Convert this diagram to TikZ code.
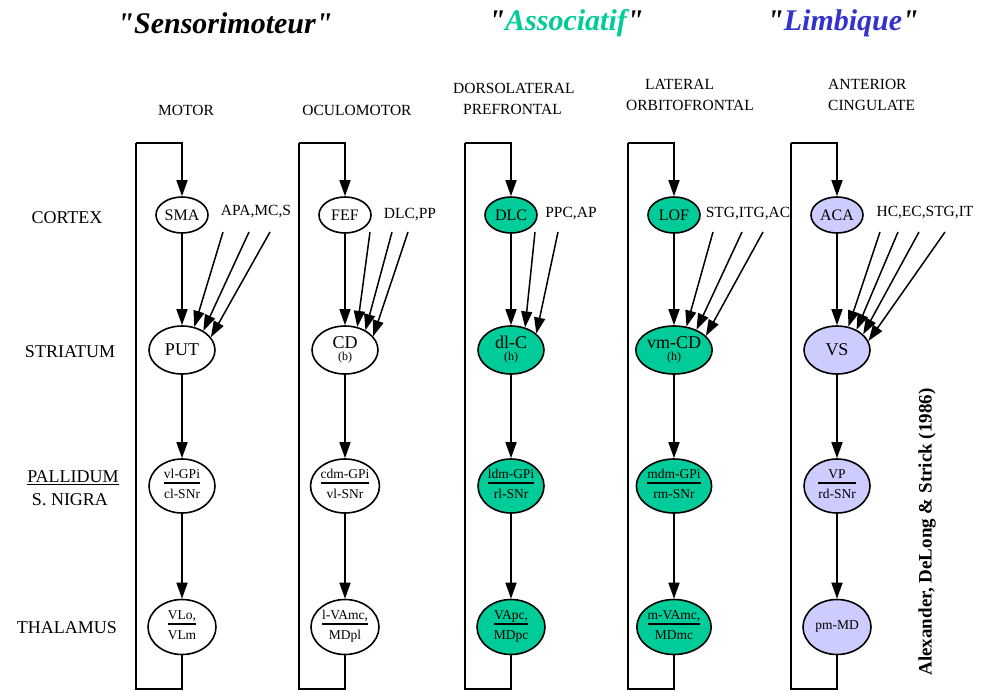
\documentclass[tikz,border=0pt]{standalone}
\usepackage{fontspec}
\setmainfont{Liberation Serif}
\newfontfamily\titlefont[Ligatures=TeXOff]{Liberation Serif}
\usetikzlibrary{arrows.meta,shapes.geometric}

\definecolor{assocgreen}{RGB}{0,204,153}
\definecolor{limbblue}{RGB}{51,51,204}
\definecolor{limbfill}{RGB}{204,204,255}

\newcommand{\fsz}[1]{\fontsize{#1}{#1}\selectfont}
\newcommand{\qq}{\symbol{34}}
\newcommand{\twolab}[2]{{\setlength{\arrayrulewidth}{1.8pt}\renewcommand{\arraystretch}{1.05}%
  \begin{tabular}{@{}c@{}}#1\\[-1pt]\hline\rule{0pt}{15pt}#2\end{tabular}}}
\newcommand{\sublab}[2]{#1\\[-6pt]{\fsz{12}#2}}

\tikzstyle{title} = [font=\titlefont\fsz{30}\bfseries\itshape]
\tikzstyle{loopname} = [font={\fontsize{15.5}{21}\selectfont}, align=left, inner sep=0pt]
\tikzstyle{area} = [font=\fsz{18}, align=center, inner sep=0pt]
\tikzstyle{inputs} = [font=\fsz{15.5}, inner sep=0pt]
\tikzstyle{region} = [ellipse, draw, line width=1.6pt, inner sep=0pt]
\tikzstyle{ctxnode} = [region, minimum width=52pt, minimum height=36pt, font=\fsz{16}]
\tikzstyle{strnode} = [region, minimum width=66pt, minimum height=48pt, font=\fsz{18}, align=center]
\tikzstyle{palnode} = [region, minimum width=66pt, minimum height=54pt, font=\fsz{13.5}]
\tikzstyle{thalnode} = [region, minimum width=68pt, minimum height=55pt, font=\fsz{13.5}]
\tikzstyle{arrowline} = [draw, line width=1.5pt, -{Triangle[length=16pt,width=11pt]}]
\tikzstyle{frameline} = [draw, line width=1.6pt]

\begin{document}
\begin{tikzpicture}[x=1pt, y=-1pt]
    \useasboundingbox (0,0) rectangle (986,691);
    % titles
    \node[title] (sensori) at (225,23) {\qq Sensorimoteur\qq};
    \node[title] (assoc) at (566,23) {\qq\textcolor{assocgreen}{Associatif}\qq};
    \node[title] (limb) at (843,23) {\qq\textcolor{limbblue}{Limbique}\qq};
    % loop names
    \node[loopname] (motor) at (186,110) {MOTOR};
    \node[loopname] (oculo) at (357,110) {OCULOMOTOR};
    \node[loopname, anchor=west] (dlpf) at (453,99) {DORSOLATERAL\\\hspace*{10pt}PREFRONTAL};
    \node[loopname, anchor=west] (lof) at (626,95) {\hspace*{19pt}LATERAL\\ORBITOFRONTAL};
    \node[loopname, anchor=west] (acc) at (828,95) {ANTERIOR\\CINGULATE};
    % levels
    \node[area] (cortex) at (67,218) {CORTEX};
    \node[area] (striatum) at (70,352) {STRIATUM};
    \node[area] (pallidum) at (73,478) {\underline{PALLIDUM}};
    \node[area] (snigra) at (70,500) {S. NIGRA};
    \node[area] (thalamus) at (67,628) {THALAMUS};
    \node[font=\fsz{19}\bfseries, rotate=90] (ref) at (927,532) {Alexander, DeLong \& Strick (1986)};

    % loops
    \foreach \i/\x/\fc/\ctx/\str/\pal/\thal in {
      1/182/white/{SMA}/{PUT}/{\twolab{vl-GPi}{cl-SNr}}/{\twolab{VLo,}{VLm}},
      2/345/white/{FEF}/{\sublab{CD}{(b)}}/{\twolab{cdm-GPi}{vl-SNr}}/{\twolab{l-VAmc,}{MDpl}},
      3/511/assocgreen/{DLC}/{\sublab{dl-C}{(h)}}/{\twolab{ldm-GPi}{rl-SNr}}/{\twolab{VApc,}{MDpc}},
      4/674/assocgreen/{LOF}/{\sublab{vm-CD}{(h)}}/{\twolab{mdm-GPi}{rm-SNr}}/{\twolab{m-VAmc,}{MDmc}},
      5/837/limbfill/{ACA}/{VS}/{\twolab{VP}{rd-SNr}}/{pm-MD}}
    {
        \node[ctxnode, fill=\fc] (ctx\i) at (\x,215) {\ctx};
        \node[strnode, fill=\fc] (str\i) at (\x,350) {\str};
        \node[palnode, fill=\fc] (pal\i) at (\x,486) {\pal};
        \node[thalnode, fill=\fc] (thal\i) at (\x,627) {\thal};
        \coordinate (bot\i) at (\x,689);
        \coordinate (top\i) at (\x-46,143);
        \draw[arrowline] (ctx\i) -- (str\i);
        \draw[arrowline] (str\i) -- (pal\i);
        \draw[arrowline] (pal\i) -- (thal\i);
        \draw[frameline] (thal\i) -- (bot\i) -| (top\i);
        \draw[arrowline] (top\i) -| (ctx\i);
    };

    % cortical inputs
    \node[inputs] (in1) at (256,212) {APA,MC,S};
    \node[inputs] (in2) at (410,215) {DLC,PP};
    \node[inputs] (in3) at (571,214) {PPC,AP};
    \node[inputs] (in4) at (748,214) {STG,ITG,AC};
    \node[inputs] (in5) at (925,213) {HC,EC,STG,IT};
    \foreach \i/\k/\xs/\ang in {
      1/a/223/62, 1/b/249/42, 1/c/270/24,
      2/a/370/62, 2/b/392/44, 2/c/408/26,
      3/a/535/58, 3/b/558/33,
      4/a/713/62, 4/b/742/42, 4/c/763/24,
      5/a/880/64, 5/b/898/46, 5/c/919/31, 5/d/945/16}
    {
        \coordinate (src\i\k) at (\xs,232);
        \draw[arrowline] (src\i\k) -- (str\i.\ang);
    };
\end{tikzpicture}
\end{document}
